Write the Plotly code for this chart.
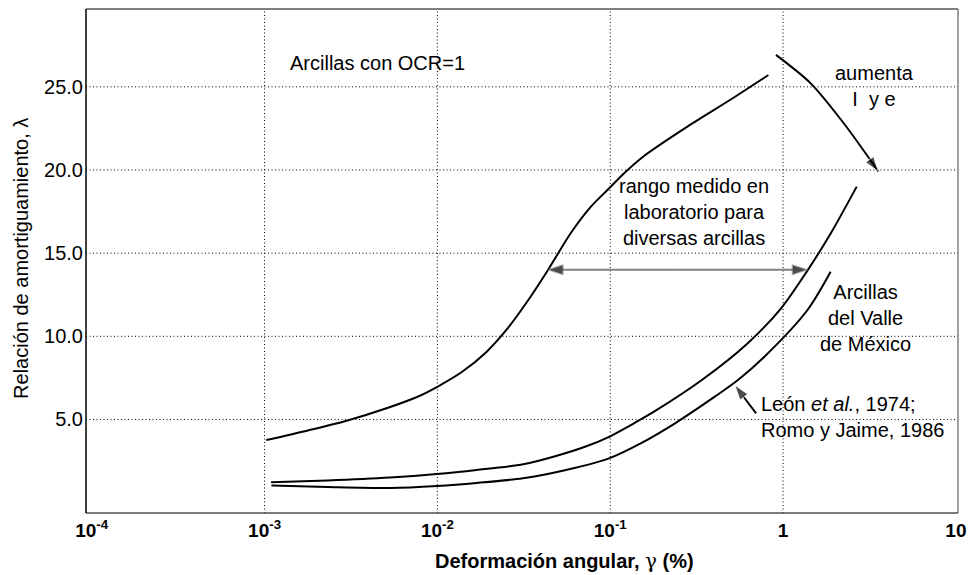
import numpy as np
import plotly.graph_objects as go

# Damping ratio (%) versus shear strain (%) for clays
upper_strain = [0.001023, 0.001782, 0.003020, 0.005129, 0.007621, 0.009931, 0.01384,
                0.01923, 0.02506, 0.03266, 0.04365, 0.05916, 0.07709, 0.09638,
                0.1225, 0.1596, 0.2710, 0.5248, 0.8222]
upper_damping = [3.76, 4.34, 4.94, 5.69, 6.35, 6.95, 7.85, 9.06, 10.38, 12.00,
                 13.99, 16.21, 17.78, 18.80, 19.88, 20.90, 22.52, 24.39, 25.71]

mexico_hi_strain = [0.001091, 0.002317, 0.005333, 0.009931, 0.01687, 0.03141, 0.04853,
                    0.07211, 0.09638, 0.1400, 0.1820, 0.3388, 0.6223, 0.9765,
                    1.377, 1.892, 2.667]
mexico_hi_damping = [1.22, 1.33, 1.51, 1.72, 1.96, 2.30, 2.80, 3.37, 3.91, 4.82,
                     5.51, 7.37, 9.57, 11.70, 13.92, 16.21, 19.0]

mexico_lo_strain = [0.001096, 0.002317, 0.005358, 0.009931, 0.01687, 0.03126, 0.05546,
                    0.09817, 0.1510, 0.2371, 0.4027, 0.5483, 0.7798, 1.384, 1.884]
mexico_lo_damping = [1.03, 0.94, 0.88, 1.00, 1.18, 1.46, 1.96, 2.66, 3.58, 4.77,
                     6.37, 7.37, 8.77, 11.58, 13.88]

# curved "aumenta I y e" arrow
trend_strain = [0.9099, 1.445, 2.244, 3.565]
trend_damping = [26.92, 25.21, 22.81, 19.90]

# measured range arrow
range_level = 14.0
range_from = 0.04355
range_to = 1.384

# reference pointer (tail -> tip)
ref_strain = [0.6982, 0.5248]
ref_damping = [5.37, 7.07]

x_tick_vals = [1e-4, 1e-3, 1e-2, 1e-1, 1, 10]
x_tick_text = ["10<sup>-4</sup>", "10<sup>-3</sup>", "10<sup>-2</sup>",
               "10<sup>-1</sup>", "1", "10"]
y_tick_vals = [5, 10, 15, 20, 25]
y_tick_text = ["5.0", "10.0", "15.0", "20.0", "25.0"]
grid_x = [1e-3, 1e-2, 1e-1, 1]

FONT = "Liberation Sans, Arial, sans-serif"
TXT = 20
HEAD = 16


def tip_sizes(n, size):
    """Marker sizes that show an arrowhead only on the last point."""
    return [0] * (n - 1) + [size]


fig = go.Figure()
curve = dict(color="black", width=2, shape="spline", smoothing=0.8)
for xs, ys in [(upper_strain, upper_damping),
               (mexico_hi_strain, mexico_hi_damping),
               (mexico_lo_strain, mexico_lo_damping)]:
    fig.add_trace(go.Scatter(x=xs, y=ys, mode="lines", line=curve,
                             hoverinfo="skip", showlegend=False))

head = dict(symbol="arrow", angleref="previous", color="black")

# curved trend arrow
fig.add_trace(go.Scatter(x=trend_strain, y=trend_damping, mode="lines+markers",
                         line=curve, marker=dict(size=tip_sizes(len(trend_strain), HEAD), **head),
                         hoverinfo="skip", showlegend=False))
# pointer to the Valle de México curve
fig.add_trace(go.Scatter(x=ref_strain, y=ref_damping, mode="lines+markers",
                         line=dict(color="black", width=2),
                         marker=dict(size=tip_sizes(2, HEAD), **head),
                         hoverinfo="skip", showlegend=False))
# measured range: grey shaft with black heads at both ends
mid = np.sqrt(range_from * range_to)
for end in (range_from, range_to):
    fig.add_trace(go.Scatter(x=[mid, end], y=[range_level, range_level],
                             mode="lines+markers", line=dict(color="#808080", width=2),
                             marker=dict(size=tip_sizes(2, HEAD), **head),
                             hoverinfo="skip", showlegend=False))

shapes = []
grid_dash = "1px,2.5px"
for gx in grid_x:
    shapes.append(dict(type="line", xref="x", yref="paper", x0=gx, x1=gx, y0=0, y1=1,
                       line=dict(color="black", width=1, dash=grid_dash), layer="below"))
for gy in y_tick_vals:
    shapes.append(dict(type="line", xref="paper", yref="y", x0=0, x1=1, y0=gy, y1=gy,
                       line=dict(color="black", width=1, dash=grid_dash), layer="below"))
# frame
shapes += [
    dict(type="line", xref="paper", yref="paper", x0=0, x1=1, y0=1, y1=1,
         line=dict(color="#808080", width=2)),
    dict(type="line", xref="paper", yref="paper", x0=1, x1=1, y0=0, y1=1,
         line=dict(color="#808080", width=1.5)),
    dict(type="line", xref="paper", yref="paper", x0=0, x1=1, y0=0, y1=0,
         line=dict(color="#505050", width=1.5)),
    dict(type="line", xref="paper", yref="paper", x0=0, x1=0, y0=0, y1=1,
         line=dict(color="black", width=1.5)),
]

txt_font = dict(family=FONT, size=TXT, color="black")
annotations = [
    dict(x=-2.864, y=26.43, text="Arcillas con OCR=1", xanchor="left"),
    dict(x=0.53, y=25.08, text="aumenta<br>I\u00a0\u00a0y e"),
    dict(x=-0.516, y=17.47, text="rango medido en<br>laboratorio para<br>diversas arcillas"),
    dict(x=0.475, y=11.10, text="Arcillas<br>del Valle<br>de México"),
    dict(x=-0.137, y=5.15, text="León <i>et al.</i>, 1974;<br>Romo y Jaime, 1986",
         xanchor="left", align="left"),
]
for a in annotations:
    a.update(xref="x", yref="y", showarrow=False, font=txt_font)
    a.setdefault("xanchor", "center")
    a.setdefault("yanchor", "middle")

annotations += [
    dict(xref="paper", yref="paper", x=0.549, y=-0.0952, showarrow=False,
         text="<b>Deformación angular, </b>"
              "<span style=\"font-family:DejaVu Serif\">γ</span><b> (%)</b>",
         font=dict(family=FONT, size=TXT, color="black"),
         xanchor="center", yanchor="middle"),
    dict(xref="paper", yref="paper", x=-0.0746, y=0.506, showarrow=False, textangle=-90,
         text="Relación de amortiguamiento, λ",
         font=dict(family=FONT, size=TXT, color="black"),
         xanchor="center", yanchor="middle"),
]

fig.update_layout(
    width=975, height=575,
    margin=dict(l=86, r=10, t=9, b=62),
    paper_bgcolor="white", plot_bgcolor="white",
    font=dict(family=FONT, color="black"),
    shapes=shapes, annotations=annotations, showlegend=False,
)
fig.update_xaxes(type="log", range=[-4.033, 1.012], showgrid=False, zeroline=False,
                 showline=False, ticks="", tickvals=x_tick_vals, ticktext=x_tick_text,
                 ticklabelstandoff=4,
                 tickfont=dict(family=FONT, size=19, weight="bold", color="black"))
fig.update_yaxes(range=[-0.625, 29.68], showgrid=False, zeroline=False, showline=False,
                 ticks="", tickvals=y_tick_vals, ticktext=y_tick_text,
                 tickfont=dict(family=FONT, size=TXT, color="black"), ticklabelstandoff=2)

fig.write_html("out.html")
